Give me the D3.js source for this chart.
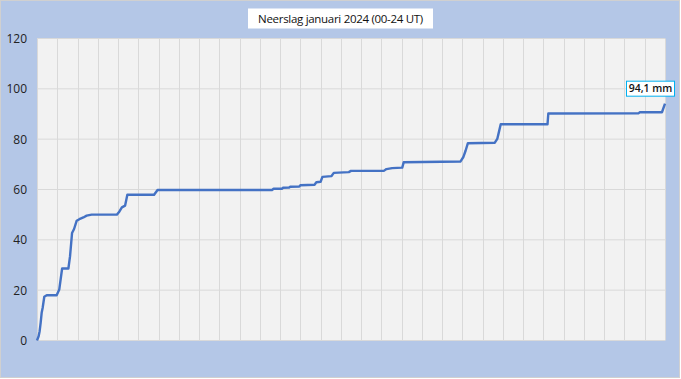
<!DOCTYPE html>
<html><head><meta charset="utf-8">
<script src="https://cdn.jsdelivr.net/npm/d3@7/dist/d3.min.js"></script>
<style>body{margin:0;padding:0;background:#fff}svg{display:block}</style>
</head><body>
<script>
const title = "Neerslag januari 2024 (00-24 UT)";
const yTicks = [0, 20, 40, 60, 80, 100, 120];
const dayLines = d3.range(0, 32);
// cumulative precipitation (mm) at fractional day of January
const days = [0,0.08,0.13,0.18,0.23,0.28,0.36,0.48,0.97,1.1,1.24,1.55,1.63,1.73,1.83,1.96,2.09,2.29,2.45,2.7,3.94,4.07,4.19,4.35,4.46,5.78,5.95,11.6,11.68,12.1,12.14,12.45,12.5,12.95,13.0,13.7,13.79,14.0,14.09,14.53,14.65,15.39,15.5,17.12,17.25,17.53,18.03,18.1,20.9,21.04,21.16,21.27,22.6,22.72,22.8,22.89,25.2,25.24,29.7,29.75,30.85,31];
const values = [0,1.7,3.7,7,11,13,17.4,18,18,20.3,28.6,28.6,33.4,42.7,44.3,47.6,48.2,48.9,49.6,50,50,51.3,52.9,53.6,57.9,57.9,59.8,59.8,60.3,60.3,60.7,60.8,61.1,61.2,61.7,61.9,62.9,63.1,65,65.3,66.6,66.9,67.4,67.4,68.1,68.5,68.7,70.8,71.1,72.8,75.5,78.4,78.6,80.1,82.8,85.9,85.9,90.2,90.3,90.7,90.7,94.1];
const finalLabel = "94,1 mm";

const W = 681, H = 379;
const svg = d3.select("body").append("svg").attr("width", W).attr("height", H);
svg.append("rect").attr("x",0.5).attr("y",0.5).attr("width",679).attr("height",377)
  .attr("fill","#b4c7e7").attr("stroke","#d0d0d0");

const L = 37, R = 665, T = 38.5, B = 340.5;
const x = d3.scaleLinear().domain([0,31]).range([L,R]);
const y = d3.scaleLinear().domain([0,120]).range([B,T]);

svg.append("rect").attr("x",L).attr("y",T).attr("width",R-L).attr("height",B-T).attr("fill","#f2f2f2");

const g = svg.append("g");
g.selectAll("line.h").data(yTicks).join("line")
  .attr("x1",L).attr("x2",R).attr("y1",d=>y(d)).attr("y2",d=>y(d))
  .attr("stroke","#d9d9d9").attr("stroke-width",1);
g.selectAll("line.v").data(dayLines).join("line")
  .attr("x1",d=>Math.round(x(d))+0.5).attr("x2",d=>Math.round(x(d))+0.5).attr("y1",T).attr("y2",B)
  .attr("stroke","#d9d9d9").attr("stroke-width",1);

const yAxis = d3.axisLeft(y).tickValues(yTicks).tickSize(0).tickPadding(10);
const ya = svg.append("g").attr("transform",`translate(${L},0)`).call(yAxis);
ya.select(".domain").remove();
ya.selectAll("text").attr("font-family","'Open Sans', sans-serif").attr("font-size","12px").attr("fill","#222");

const data = days.map((d,i)=>({d, v: values[i]}));
svg.append("path").datum(data)
  .attr("fill","none").attr("stroke","#4472c4").attr("stroke-width",2.4).attr("stroke-linejoin","round")
  .attr("d", d3.line().x(p=>x(p.d)).y(p=>y(p.v)));

// title
const tg = svg.append("g");
tg.append("rect").attr("x",248).attr("y",8.5).attr("width",185).attr("height",20).attr("fill","#ffffff");
tg.append("text").attr("x",340.5).attr("y",22.5).attr("text-anchor","middle")
  .attr("font-family","'Open Sans', sans-serif").attr("font-size","11.5px").attr("fill","#111")
  .attr("letter-spacing","-0.3px").text(title);

// final value label
const last = data[data.length-1];
const lg = svg.append("g");
lg.append("rect").attr("x",x(last.d)-38.5).attr("y",y(last.v)-22.5).attr("width",48).attr("height",15)
  .attr("fill","#ffffff").attr("stroke","#00b0f0").attr("stroke-width",1);
lg.append("text").attr("x",x(last.d)-14.5).attr("y",y(last.v)-11.2).attr("text-anchor","middle")
  .attr("font-family","'Open Sans', sans-serif").attr("font-size","10.5px").attr("font-weight","600").attr("fill","#111")
  .text(finalLabel);
</script>
</body></html>
